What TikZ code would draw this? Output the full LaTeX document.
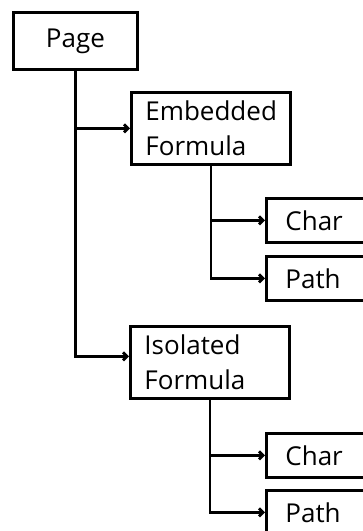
\documentclass[tikz,border=0pt]{standalone}
\usepackage{fontspec}
\setmainfont{Open Sans}
\usetikzlibrary{arrows.meta}

\begin{document}
\begin{tikzpicture}[x=1pt, y=-1pt,
  every node/.style = {shape=rectangle, draw, line width=2.8pt, anchor=north west,
    font=\fontsize{26}{35}\selectfont},
  leaf/.style = {minimum width=130pt, minimum height=44pt, inner xsep=18pt,
    text width=92pt, align=left},
  formula/.style = {minimum width=159pt, minimum height=72pt, inner xsep=13pt,
    text width=131pt, align=left},
  link/.style = {line width=2.8pt, -{Straight Barb[length=4pt,width=8pt]}}]

  \useasboundingbox (0,0) rectangle (363,531);
  \clip (0,0) rectangle (363,531);

  \node[minimum width=124pt, minimum height=57pt] (Page) at (12,11) {Page};

  \node[formula] (Embedded) at (130,91) {Embedded\\Formula};
  \node[leaf] (Char1) at (265,197) {Char};
  \node[leaf] (Path1) at (265,255) {Path};

  \node[formula] (Isolated) at (129,325) {Isolated\\Formula};
  \node[leaf] (Char2) at (265,432) {Char};
  \node[leaf] (Path2) at (265,489) {Path};

  \draw[link] (Page.south) |- ([yshift=6pt]Isolated.west);
  \draw[link] (Page.south |- Embedded.west) -- (Embedded.west);

  \draw[link] (Embedded.south) |- (Path1.west);
  \draw[link] (Embedded.south |- Char1.west) -- (Char1.west);

  \draw[link] (Isolated.south) |- (Path2.west);
  \draw[link] (Isolated.south |- Char2.west) -- (Char2.west);

\end{tikzpicture}
\end{document}
